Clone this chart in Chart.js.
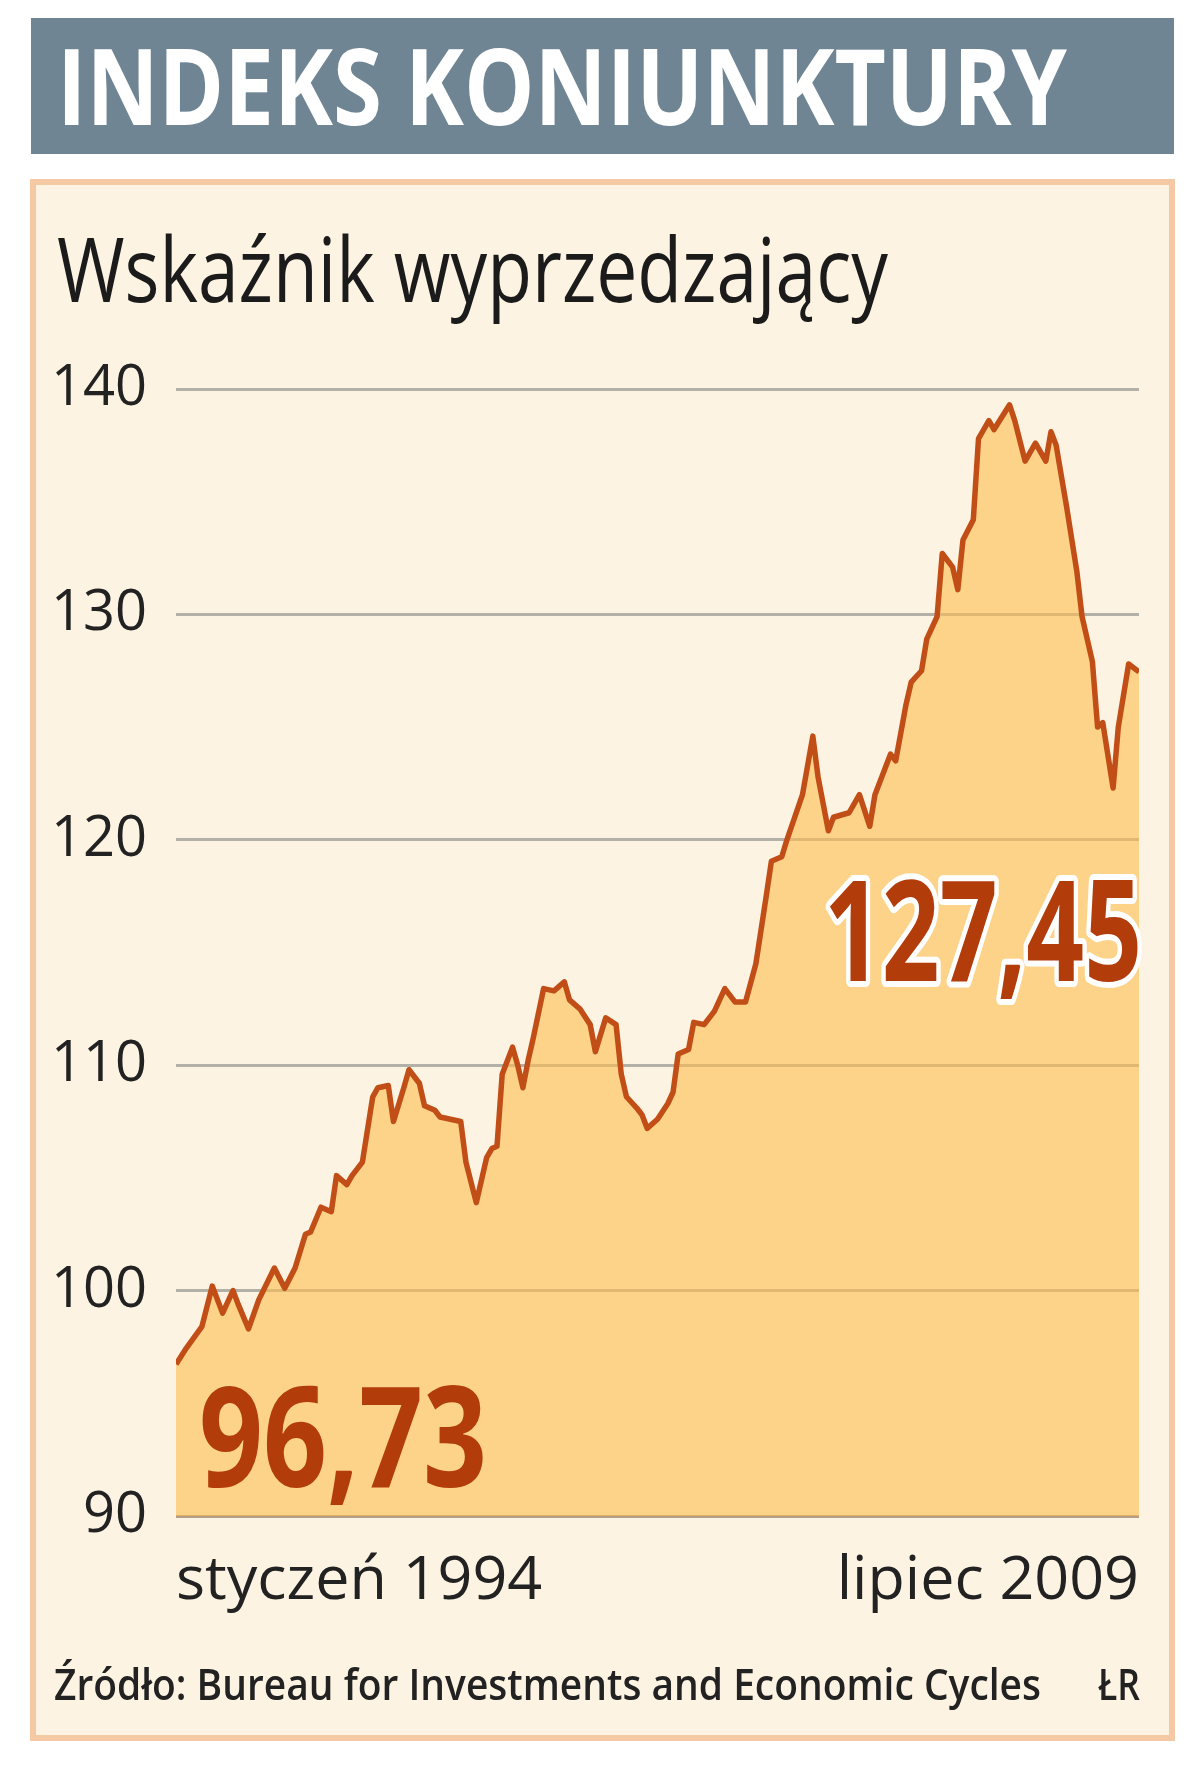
<!DOCTYPE html>
<html lang="pl">
<head>
<meta charset="utf-8">
<title>Indeks koniunktury</title>
<script src="https://cdn.jsdelivr.net/npm/chart.js@4.4.1/dist/chart.umd.min.js"></script>
<style>
  html, body { margin: 0; padding: 0; background: #fff; }
  #wrap { width: 1200px; height: 1776px; position: relative; }
</style>
</head>
<body>
<div id="wrap"><canvas id="chart" width="1200" height="1776"></canvas></div>
<script>
// month number counted from January 1994 (0) up to July 2009 (186)
const months = [
    0, 2, 5, 7, 9, 11, 12, 14, 16, 19, 21, 23, 25, 26, 28, 30, 31, 33, 34, 36,
    38, 39, 41, 42, 44, 45, 47, 48, 50, 51, 53, 55, 56, 58, 60, 61, 62, 63, 65, 66,
    67, 68, 69, 71, 73, 75, 76, 78, 80, 81, 83, 85, 86, 87, 89, 90, 91, 93, 95, 96,
    97, 99, 100, 102, 104, 106, 108, 110, 112, 114, 115, 117, 118, 121, 123, 124, 126, 127, 130, 132,
    134, 135, 138, 139, 141, 142, 144, 145, 147, 148, 150, 151, 152, 154, 155, 157, 158, 161, 162, 164,
    166, 168, 169, 170, 172, 174, 175, 177, 178, 179, 181, 182, 184, 186
];
// leading indicator values
const values = [
    96.73, 97.45, 98.4, 100.2, 99.0, 100.0, 99.4, 98.3, 99.6, 101.0, 100.1, 101.0, 102.5, 102.6, 103.7, 103.5, 105.1, 104.7, 105.1, 105.7,
    108.6, 109.0, 109.1, 107.5, 109.0, 109.8, 109.2, 108.2, 108.0, 107.7, 107.6, 107.5, 105.7, 103.9, 105.9, 106.3, 106.4, 109.6, 110.8, 110.0,
    109.0, 110.2, 111.2, 113.4, 113.3, 113.7, 112.9, 112.5, 111.8, 110.6, 112.1, 111.8, 109.6, 108.6, 108.1, 107.8, 107.2, 107.6, 108.3, 108.8,
    110.5, 110.7, 111.9, 111.8, 112.4, 113.4, 112.8, 112.8, 114.5, 117.5, 119.05, 119.25, 120.0, 122.0, 124.6, 122.8, 120.4, 121.0, 121.2, 122.0,
    120.6, 122.0, 123.8, 123.5, 126.0, 127.0, 127.5, 128.9, 129.9, 132.7, 132.1, 131.1, 133.3, 134.2, 137.8, 138.6, 138.2, 139.3, 138.6, 136.8,
    137.6, 136.8, 138.1, 137.5, 134.8, 131.9, 129.9, 127.9, 125.0, 125.2, 122.3, 125.0, 127.8, 127.45
];
const xLabels = ["styczeń 1994", "lipiec 2009"];
const yTicks = [90, 100, 110, 120, 130, 140];
const firstValueLabel = "96,73";
const lastValueLabel = "127,45";

const FONT = "'Open Sans', 'DejaVu Sans', sans-serif";

// draws text squeezed horizontally to a given width (the original uses a condensed face)
function fitText(ctx, text, x, y, width, font, fill, stroke) {
    ctx.save();
    ctx.font = font;
    ctx.textBaseline = "alphabetic";
    ctx.textAlign = "left";
    const w = ctx.measureText(text).width;
    ctx.translate(x, y);
    ctx.scale(width / w, 1);
    if (stroke) {
        ctx.lineJoin = "round";
        ctx.lineWidth = 12;
        ctx.strokeStyle = stroke;
        ctx.strokeText(text, 0, 0);
    }
    ctx.fillStyle = fill;
    ctx.fillText(text, 0, 0);
    ctx.restore();
}

// === BACKGROUND: title bar and peach panel ===
const backdrop = {
    id: "backdrop",
    beforeDraw(chart) {
        const ctx = chart.ctx;
        ctx.save();
        ctx.fillStyle = "#ffffff";
        ctx.fillRect(0, 0, chart.width, chart.height);
        ctx.fillStyle = "#6f8593";
        ctx.fillRect(31, 18, 1143, 136);
        ctx.fillStyle = "#fdf3e2";
        ctx.fillRect(33, 182, 1139, 1556);
        ctx.strokeStyle = "#f6c9a5";
        ctx.lineWidth = 6;
        ctx.strokeRect(33, 182, 1139, 1556);
        ctx.restore();
    },
    afterDraw(chart) {
        const ctx = chart.ctx;
        fitText(ctx, "INDEKS KONIUNKTURY", 57, 125, 1010, `bold 105px ${FONT}`, "#ffffff");
        fitText(ctx, "Wskaźnik wyprzedzający", 57, 302, 831, `90px ${FONT}`, "#1b1b1b");
        fitText(ctx, firstValueLabel, 199, 1487, 288, `bold 140px ${FONT}`, "#b33c0b");
        fitText(ctx, lastValueLabel, 824, 981, 318, `bold 140px ${FONT}`, "#b33c0b", "#ffffff");
        fitText(ctx, "Źródło: Bureau for Investments and Economic Cycles", 54, 1700, 987, `600 44px ${FONT}`, "#222222");
        fitText(ctx, "ŁR", 1098, 1700, 42, `600 44px ${FONT}`, "#222222");
    }
};

const ctx = document.getElementById("chart").getContext("2d");

new Chart(ctx, {
    type: "line",
    data: {
        datasets: [
            {
                data: months.map((m, i) => ({ x: m, y: values[i] })),
                borderColor: "#c24e17",
                borderWidth: 5.5,
                borderJoinStyle: "round",
                backgroundColor: "rgba(253, 190, 80, 0.6)",
                fill: "start",
                tension: 0,
                pointRadius: 0,
            },
        ],
    },
    options: {
        responsive: false,
        animation: false,
        devicePixelRatio: 1,
        layout: { padding: { left: 0, top: 389, right: 61, bottom: 160 } },
        plugins: { legend: { display: false }, tooltip: { enabled: false } },
        scales: {
            x: {
                type: "linear",
                min: 0,
                max: 186,
                grid: { display: false, drawTicks: false },
                border: { display: false },
                afterBuildTicks: (s) => {
                    s.ticks = [{ value: 0 }, { value: 186 }];
                },
                afterFit: (s) => {
                    s.height = 100;
                },
                ticks: {
                    autoSkip: false,
                    maxRotation: 0,
                    align: "inner",
                    padding: 29,
                    color: "#222222",
                    font: { family: FONT, size: 61 },
                    callback: (v) => (v === 0 ? xLabels[0] : xLabels[1]),
                },
            },
            y: {
                min: 90,
                max: 140,
                afterBuildTicks: (s) => {
                    s.ticks = yTicks.map((v) => ({ value: v }));
                },
                afterFit: (s) => {
                    s.width = 176;
                },
                grid: {
                    color: (c) => (c.tick && c.tick.value === 90 ? "#b49f86" : "#b3b0a8"),
                    lineWidth: 3,
                    drawTicks: false,
                },
                border: { display: false },
                ticks: {
                    padding: 29,
                    color: "#222222",
                    font: { family: FONT, size: 56 },
                    callback: (v) => String(v),
                },
            },
        },
    },
    plugins: [backdrop],
});
</script>
</body>
</html>
